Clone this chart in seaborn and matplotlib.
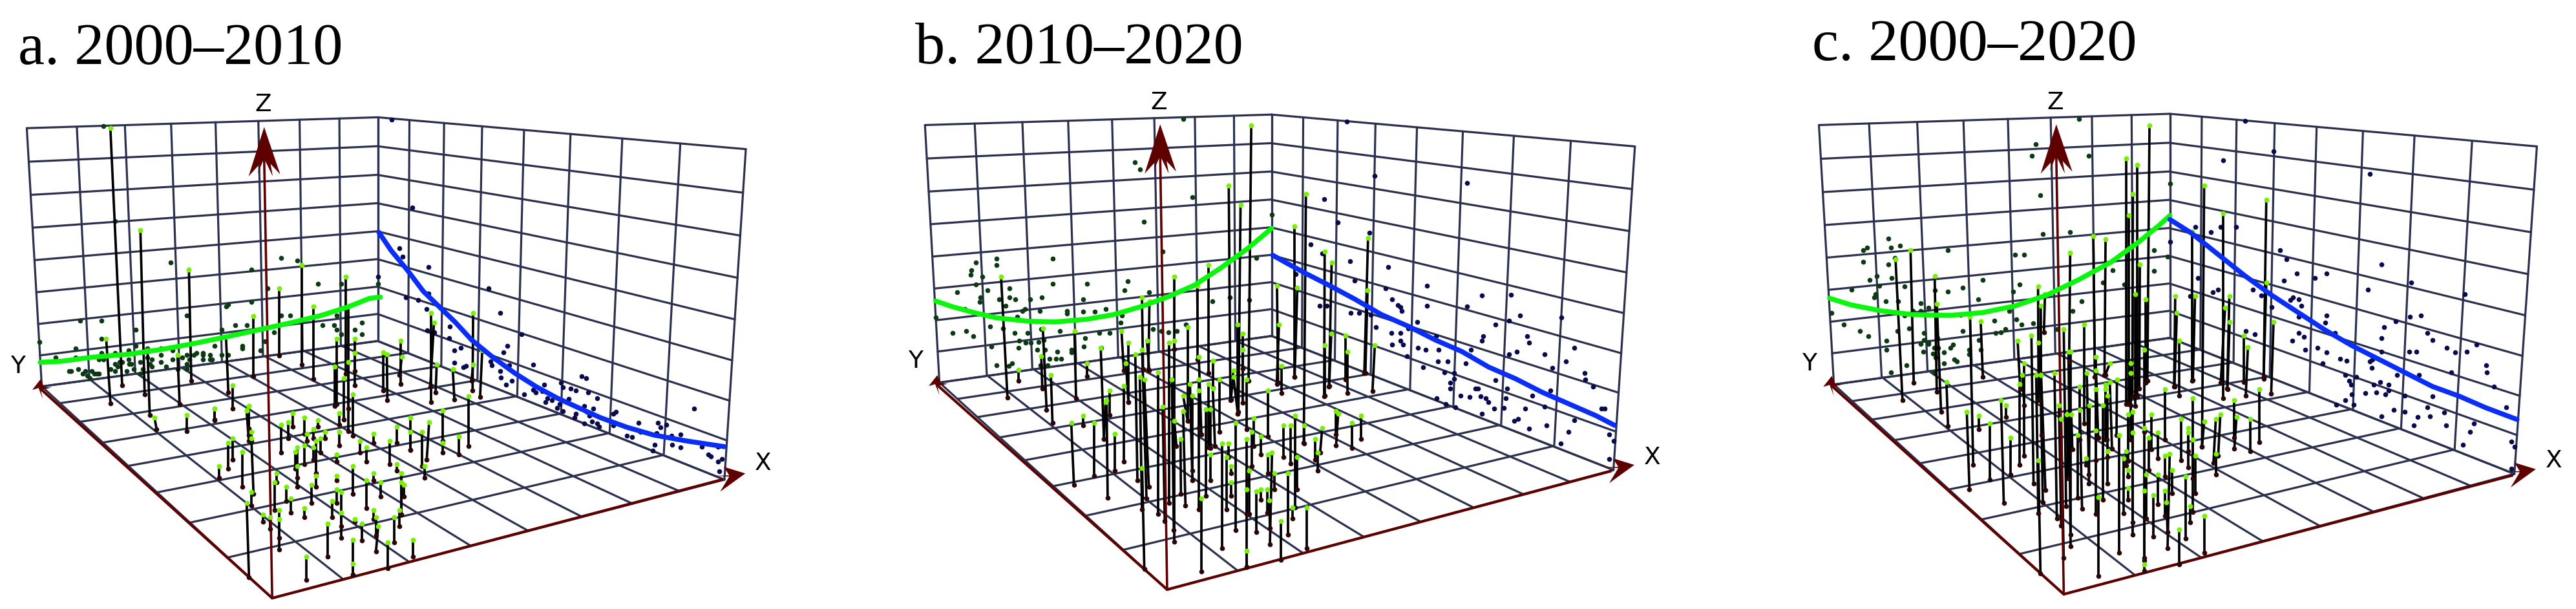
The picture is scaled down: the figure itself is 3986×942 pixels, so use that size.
import numpy as np
import pandas as pd
import matplotlib
matplotlib.use('Agg')
import matplotlib.pyplot as plt
import seaborn as sns

sns.set_style('white')
plt.rcParams['font.family'] = ['Liberation Serif', 'DejaVu Serif']

# values, in screen units of each panel (1568 wide and high)
titles = ['a. 2000–2010', 'b. 2010–2020', 'c. 2000–2020']

a_green = [(75,933),(115,930),(170,920),(240,912),(300,900),(360,885),(420,868),(480,850),(540,832),(600,812),(650,790),(690,768),(710,765)]
a_blue = [(707,598),(730,645),(760,695),(790,750),(820,790),(850,830),(880,875),(920,920),(960,960),(1000,995),(1040,1025),(1080,1050),(1120,1075),(1170,1100),(1220,1120),(1280,1135),(1352,1150)]
b_green = [(118,775),(150,790),(190,805),(230,818),(290,827),(340,829),(400,822),(450,810),(500,790),(550,765),(600,735),(650,690),(700,640),(745,588)]
b_blue = [(747,657),(770,675),(810,705),(850,733),(900,770),(950,810),(1000,840),(1050,875),(1100,905),(1150,945),(1200,975),(1250,1010),(1300,1040),(1350,1070),(1385,1095)]
c_green = [(175,768),(215,785),(270,800),(330,810),(400,812),(460,805),(520,788),(580,760),(640,720),(700,675),(750,625),(790,580),(810,555)]
c_blue = [(810,565),(850,600),(900,655),(950,710),(1000,760),(1050,805),(1100,850),(1150,890),(1200,925),(1250,960),(1300,995),(1350,1020),(1400,1050),(1458,1080)]

# stems: top x, top y, base x, base y
a_stems = [(206,330,228,992),(262,592,270,1015),(715,908,715,1005),(722,912,723,1030),(748,878,748,988),(750,918,746,965),(805,805,805,1035),(810,830,803,995),(815,938,813,1010),(883,805,882,1005),(883,938,880,980),(900,902,896,1022),(845,950,848,1028),(874,1020,874,1148)]
b_stems = [(707,323,702,980),(665,477,668,1030),(687,527,683,1060),(809,500,805,1140),(788,582,788,970),(925,612,918,960),(844,647,843,1020),(857,676,852,995),(793,740,788,970),(755,735,757,985),(924,747,920,960),(627,682,627,960),(607,735,607,925),(563,712,563,899),(503,765,505,950),(517,775,515,950),(240,712,252,1023),(318,845,325,1055),(315,917,317,1000),(273,952,273,980),(333,965,336,1088),(377,852,380,1025),(401,935,401,968),(426,895,432,1130),(443,1005,443,1068),(435,1035,432,1130),(371,1088,376,1248),(393,1070,393,1095),(414,1088,414,1225),(437,1030,439,1282)]
c_stems = [(772,323,768,980),(728,407,728,1040),(749,425,749,1020),(741,500,740,1020),(733,555,733,1040),(874,478,870,1150),(990,514,985,975),(909,549,909,1025),(852,596,852,980),(754,680,753,1000),(667,607,670,970),(690,616,688,965),(624,651,622,930),(326,645,332,985),(298,668,311,1030),(371,710,375,1008),(375,782,383,1060),(437,815,443,1197),(457,828,461,970),(393,983,396,1097),(564,738,565,1030),(569,787,570,1120),(577,757,575,855),(745,757,745,1045),(765,770,765,985),(820,763,818,995),(857,762,853,978),(913,793,905,985),(921,763,917,1000),(990,728,985,970),(431,1060,436,1260),(453,1070,453,1105),(474,1090,474,1235),(495,1030,500,1295)]

a_stems_crop1 = [(7,35,7,90),(166,25,166,130),(155,45,165,185),(177,143,177,185),(177,175,187,433),(91,175,91,272),(70,196,70,315),(134,238,134,400),(27,303,27,358),(177,422,177,486),(155,475,166,818),(316,110,316,239),(348,100,348,175),(370,57,370,121),(423,78,423,153),(487,89,487,121),(466,132,466,175),(434,153,434,185),(519,143,519,175),(498,175,498,239),(477,185,477,335),(466,217,466,272),(423,207,423,293),(391,217,391,400),(380,238,380,315),(391,303,391,357),(584,57,584,110),(584,143,584,207),(573,250,573,282),(477,347,477,400),(456,389,456,475),(295,335,295,378),(284,378,284,507),(338,400,338,464),(359,454,359,518),(423,497,423,540),(306,507,306,690),(230,529,230,560),(263,540,263,593),(306,550,306,635),(552,464,552,540),(573,411,573,475),(595,422,595,635),(595,518,595,582),(530,571,530,722),(648,303,648,432),(573,347,573,368),(658,550,658,560),(691,571,691,647),(648,646,648,808),(648,755,648,808),(433,722,433,830),(755,540,755,625),(766,582,755,700),(745,508,745,550),(809,657,809,776),(841,540,841,657),(863,508,863,582),(927,646,927,722),(712,368,712,497),(777,378,777,443),(745,335,745,368),(874,335,874,529),(874,378,874,529),(884,389,884,443),(852,293,852,325),(820,185,820,293),(712,217,712,282),(680,185,680,239),(745,153,745,196),(852,121,852,196),(916,78,916,228),(916,143,916,228),(970,143,970,303),(1002,100,991,272),(981,303,981,357),(1066,46,1066,185),(1066,196,1066,239),(1141,164,1141,250)]
a_stems_crop2 = [(193,433,213,733),(385,487,395,787),(524,508,534,735),(577,111,588,626),(749,423,760,681),(781,648,781,756),(877,326,877,606),(995,197,995,510),(1102,90,1102,552),(1156,283,1156,617),(1305,143,1305,595),(1316,283,1316,860),(1263,433,1263,735),(1253,562,1253,745),(1296,615,1296,808),(1348,433,1348,583),(1348,497,1348,648),(1316,540,1316,755),(1338,690,1338,883),(417,797,427,852),(566,787,566,862),(695,755,695,808),(856,745,856,850),(845,765,855,880)]
b_stems_crop = [(46,97,57,280),(78,150,78,427),(67,247,78,427),(57,352,57,703),(14,574,14,745),(110,204,120,788),(131,310,141,925),(142,183,162,873),(164,140,175,280),(152,320,173,820),(142,733,152,1200),(216,289,216,945),(268,150,268,893),(290,140,290,1073),(280,320,289,1020),(237,448,247,977),(291,512,301,630),(320,596,322,852),(332,395,353,512),(332,468,343,905),(353,77,353,512),(364,342,374,745),(374,395,374,788),(405,215,417,575),(406,373,406,925),(406,320,406,545),(417,872,417,1212),(438,458,438,862),(449,342,449,635),(459,458,459,640),(470,235,470,360),(470,362,480,630),(502,320,502,565),(459,670,459,788),(512,618,512,1105),(533,681,533,925),(544,618,544,680),(554,723,554,755),(554,797,554,862),(566,278,554,415),(566,310,586,480),(576,522,576,1020),(608,183,608,430),(608,108,608,270),(586,66,586,480),(628,320,628,553),(628,596,628,1190),(628,830,628,945),(650,565,650,723),(660,500,660,630),(639,745,639,945),(628,1116,628,1190),(692,586,692,670),(671,840,671,1030),(692,830,692,880),(725,670,725,755),(745,660,735,1085),(724,830,724,938),(732,882,735,1010),(756,755,756,830),(787,977,787,1158),(820,755,820,1042),(798,533,798,682),(830,533,830,712),(851,490,851,915),(862,681,862,830),(840,914,840,967),(905,914,905,1105),(894,533,894,618),(978,545,968,660),(946,596,946,692),(956,660,956,745),(1042,468,1042,575),(1052,480,1042,628),(1116,522,1116,640),(1158,490,1158,597),(725,373,725,585),(788,257,788,384),(1095,193,1095,385),(1085,118,1085,320),(989,162,989,395),(1020,108,1010,352),(1222,162,1211,375),(777,66,767,343)]
c_stems_crop = [(66,140,78,365),(76,343,76,718),(87,300,97,440),(97,247,97,675),(130,118,140,805),(162,150,172,290),(152,300,162,943),(173,300,183,890),(175,300,195,835),(162,697,172,1222),(12,440,12,495),(34,590,34,763),(237,290,248,965),(280,87,291,910),(302,193,312,1095),(312,193,312,1040),(258,440,268,998),(268,505,280,1148),(295,483,300,780),(315,483,320,645),(376,66,376,525),(344,578,344,870),(355,355,355,600),(355,462,365,922),(387,290,397,763),(400,440,397,805),(385,686,385,718),(430,215,430,697),(430,365,430,945),(430,280,440,590),(440,868,440,1232),(430,558,440,590),(494,247,473,300),(473,344,480,600),(494,332,504,643),(484,397,484,680),(461,440,461,878),(473,365,473,600),(484,654,484,805),(527,322,525,580),(537,578,537,1125),(558,686,558,943),(569,654,569,720),(580,740,580,772),(580,825,580,880),(579,483,579,700),(590,290,590,600),(590,247,590,440),(601,472,601,985),(601,568,601,1040),(654,182,654,563),(654,547,654,1160),(664,762,664,965),(654,836,654,1150),(654,1180,654,1210),(676,590,676,740),(686,483,686,645),(718,568,718,686),(697,858,697,1050),(718,762,718,900),(751,365,751,600),(751,676,751,772),(772,665,762,1105),(751,836,751,955),(783,740,783,848),(757,890,762,1030),(815,1018,815,1180),(847,772,847,1060),(826,504,826,697),(857,547,857,655),(857,568,857,730),(879,408,879,935),(879,600,879,780),(890,676,890,848),(868,910,868,985),(932,954,932,1125),(932,515,922,632),(986,504,975,708),(1007,483,997,676),(986,665,986,762),(1072,418,1072,590),(1082,494,1072,643),(1147,504,1147,655),(1189,365,1189,612),(815,140,815,397),(1115,118,1115,333),(1135,172,1125,397),(1050,54,1040,365),(1254,54,1243,387),(805,12,794,355)]

a_left = [(193,325),(215,570),(73,880),(705,730),(104,920)]
a_left_crop = [(491,79),(867,112),(1006,58),(1081,69),(1177,176),(1285,176),(941,197),(867,261),(749,283),(760,272),(73,348),(170,348),(330,390),(567,325),(728,390),(792,369),(845,369),(1006,325),(1048,325),(1263,325),(1381,358),(1198,369),(1252,369),(1263,390),(1348,390),(1285,411),(1381,411),(973,401),(170,433),(930,444),(330,465),(695,465),(824,465),(824,476),(52,476),(385,476),(448,476),(298,486),(502,486),(909,486),(170,497),(234,497),(612,497),(642,497),(600,508),(642,508),(448,508),(567,508),(674,508),(728,508),(760,508),(52,518),(298,529),(406,529),(502,529),(545,518),(578,529),(642,529),(674,529),(684,529),(181,529),(160,529),(255,540),(266,540),(352,540),(385,518),(448,540),(299,550),(310,550),(234,550),(245,561),(395,550),(406,561),(567,550),(470,561),(213,572),(64,572),(320,572),(363,572),(567,572),(524,572),(20,583),(31,583),(95,583),(235,583),(288,583),(127,583),(85,593),(138,593),(150,593),(160,593),(106,604),(352,593),(117,615)]
a_right = [(731,308),(769,535),(745,640),(752,660),(800,688),(705,712),(912,742),(758,765),(780,772),(800,755),(796,795),(934,806),(797,850),(840,840),(810,855),(838,870),(973,860),(860,895),(848,902),(947,890),(940,908),(915,930),(918,940),(950,940),(848,933),(870,942),(865,945),(995,938),(933,955),(935,972),(945,990),(955,980),(1085,968),(1094,973),(1015,990),(1047,985),(1050,997),(995,1003),(1012,1007),(1000,1010),(1065,1000),(1075,1005),(1098,1010),(1115,1025),(978,1015),(1022,1025),(1018,1035),(1030,1030),(1062,1027),(1045,1040),(1090,1045),(1040,1050),(1050,1058),(1107,1052),(1295,1052),(1150,1060),(1075,1065),(1072,1075),(1095,1060),(1100,1070),(1145,1065),(1105,1085),(1115,1090),(1090,1090),(1145,1095),(1192,1088),(1118,1098),(1228,1088),(1243,1093),(1233,1100),(1170,1122),(1180,1125),(1195,1112),(1225,1115),(1270,1118),(1253,1122),(1222,1145),(1218,1160),(1255,1145),(1270,1152),(1310,1150),(1340,1150),(1322,1170),(1327,1175),(1347,1182),(1340,1188),(1343,1213)]
b_left = [(580,307),(490,418),(499,436),(597,507),(507,571),(746,553),(231,665),(337,665),(193,676),(231,683),(184,695),(183,708),(205,712),(193,732),(337,730),(401,730),(477,724),(541,647),(716,664),(256,742),(215,748),(158,752),(470,748),(516,753),(201,765),(236,770),(256,765),(266,770),(294,770),(316,765),(393,771),(200,778),(635,775),(667,765),(703,772),(285,795),(280,800),(270,815),(172,795),(249,788),(312,800),(435,795),(415,803),(393,803),(363,800),(363,808),(118,818),(465,813),(463,830),(585,835),(220,840),(244,845),(524,848),(539,852),(553,855),(568,852),(350,852),(315,848),(150,858),(175,852),(188,865),(265,858),(290,858),(443,858),(423,858),(397,870),(274,877),(286,882),(296,882),(222,893),(310,880),(320,875),(427,895),(273,895),(308,900),(322,900),(372,900),(395,893),(345,906),(316,917),(330,923),(342,924),(352,924),(372,908),(260,935),(254,942),(231,940),(314,941),(327,941),(400,936)]
b_right = [(885,313),(937,453),(1110,471),(843,512),(869,572),(928,600),(818,630),(839,652),(891,672),(963,688),(790,705),(900,722),(1035,736),(958,742),(1192,759),(1137,760),(1035,787),(1110,789),(970,771),(980,785),(985,790),(988,800),(835,788),(848,788),(892,805),(908,805),(930,810),(1209,812),(1286,817),(1188,825),(1017,829),(1163,836),(1000,845),(1052,865),(1140,865),(1222,865),(1137,877),(1225,882),(985,858),(940,842),(968,858),(970,888),(985,878),(990,888),(1018,895),(1032,900),(1057,900),(1085,895),(1117,900),(1115,915),(1202,906),(1188,912),(1255,912),(1310,895),(997,917),(1055,930),(1073,930),(1107,935),(1294,930),(1269,947),(1028,945),(1068,958),(1085,960),(1163,978),(1329,960),(1330,977),(1345,995),(1078,985),(1085,975),(1078,1000),(1125,1000),(1130,1000),(1185,1000),(1145,1025),(1150,1035),(1053,1025),(1098,1018),(1115,1022),(1135,1020),(1182,1025),(1232,1018),(1265,1005),(1070,1040),(1088,1048),(1160,1052),(1178,1050),(1218,1052),(1255,1047),(1360,1052),(1367,1052),(1138,1065),(1205,1078),(1198,1083),(1225,1103),(1258,1095),(1310,1082),(1375,1118),(1299,1112),(1285,1142),(1383,1135),(1375,1182)]
c_left = [(641,307),(560,371),(552,401),(659,401),(568,502),(573,603),(624,597),(810,472),(285,615),(245,638),(238,645),(290,638),(306,633),(396,645),(521,656),(538,656),(238,674),(285,680),(297,664),(780,645),(806,660),(263,710),(291,715),(461,721),(250,721),(268,735),(315,738),(423,740),(530,733),(396,750),(216,745),(518,750),(371,747),(260,758),(258,765),(280,775),(303,775),(345,780),(452,770),(645,775),(628,800),(725,733),(685,727),(780,697),(703,695),(360,793),(345,800),(330,800),(315,812),(420,810),(510,800),(524,822),(178,805),(202,835),(483,825),(232,852),(247,865),(323,845),(301,852),(351,857),(423,852),(533,835),(555,832),(600,848),(281,878),(351,875),(360,885),(345,885),(376,870),(360,880),(495,855),(485,858),(503,848),(453,875),(281,900),(350,905),(370,895),(378,895),(405,888),(400,895),(436,900),(457,900),(368,910),(373,920),(388,907),(318,940),(388,935),(408,925),(413,930),(435,912),(289,958),(370,960)]
c_right = [(950,312),(1003,390),(909,412),(1183,448),(905,585),(887,597),(934,585),(858,585),(832,585),(810,622),(1015,645),(1028,668),(1205,680),(1047,704),(1102,704),(1081,715),(1023,722),(862,715),(1261,727),(965,745),(1180,745),(900,745),(890,752),(1360,757),(1040,765),(1050,770),(1035,772),(848,762),(980,760),(1055,788),(1102,812),(1050,815),(1000,790),(1258,815),(1278,812),(1232,828),(1100,830),(1210,842),(1300,875),(1291,858),(1118,857),(952,853),(968,860),(1050,858),(1038,878),(1060,868),(1205,870),(1140,880),(1085,895),(1063,900),(1102,907),(1205,905),(1257,906),(1270,906),(1327,895),(1343,907),(1364,906),(1382,887),(1128,923),(1140,928),(1095,936),(1188,925),(1183,930),(1187,947),(1400,940),(1402,958),(1335,958),(1158,970),(1137,965),(1145,980),(1148,990),(1275,965),(1234,965),(1415,995),(1203,983),(1190,990),(1218,990),(1150,1015),(1175,1012),(1195,1010),(1212,1015),(1218,1005),(1248,1018),(1300,1020),(1137,1030),(1153,1042),(1120,1042),(1290,1048),(1228,1055),(1248,1060),(1272,1073),(1205,1072),(1295,1072),(1322,1062),(1438,1048),(1325,1095),(1378,1090),(1265,1095),(1370,1112),(1447,1137),(1357,1145),(1453,1150),(1447,1207)]

# box corners of each panel
a_box = dict(T=(705,302), F=(705,878), LT=(50,330), LB=(78,995), RT=(1392,384), RB=(1352,1235), O=(508,1540))
b_box = dict(T=(745,295), F=(745,865), LT=(98,322), LB=(125,985), RT=(1423,377), RB=(1383,1210), O=(550,1518))
c_box = dict(T=(810,293), F=(810,870), LT=(155,322), LB=(183,990), RT=(1495,377), RB=(1453,1220), O=(612,1530))

# arrow tips and label centres
a_tips = dict(X=(1391,1219), Y=(76,976), Z=(493,327))
b_tips = dict(X=(1422,1197), Y=(121,966), Z=(537,320))
c_tips = dict(X=(1493,1208), Y=(179,968), Z=(598,320))
a_labels = dict(X=(1424,1193), Y=(33,943), Z=(491,270))
b_labels = dict(X=(1455,1178), Y=(80,930), Z=(535,265))
c_labels = dict(X=(1527,1187), Y=(137,937), Z=(596,265))
title_pos = [(34,165), (80,163), (142,155)]

GRID = '#2b304f'
AXIS = '#5e0000'
N = 8
W, H = 3986, 942
PANEL_W = 1300
SCREEN = 1568


def from_crop(rows, crop_x, crop_y, panel_x):
    # 3x crop pixels to panel screen units
    a = np.array(rows, float)
    kx, ky = SCREEN/PANEL_W, SCREEN/H
    a[:, 0::2] = (crop_x + a[:, 0::2]/3 - panel_x)*kx
    a[:, 1::2] = (crop_y + a[:, 1::2]/3)*ky
    return [tuple(r) for r in a]


def quad_map(p00, p10, p11, p01):
    # projective map of the unit square onto four screen points
    src = [(0,0),(1,0),(1,1),(0,1)]
    A, b = [], []
    for (u,v),(x,y) in zip(src,[p00,p10,p11,p01]):
        A.append([u,v,1,0,0,0,-u*x,-v*x]); b.append(x)
        A.append([0,0,0,u,v,1,-u*y,-v*y]); b.append(y)
    h = np.append(np.linalg.solve(np.array(A,float), np.array(b,float)), 1).reshape(3,3)
    def f(u,v):
        w = h @ np.array([u,v,1.0])
        return w[0]/w[2], w[1]/w[2]
    return f


def draw_grid(ax, p00, p10, p11, p01):
    f = quad_map(p00,p10,p11,p01)
    for i in range(N+1):
        t = i/N
        for s,e in [((t,0),(t,1)),((0,t),(1,t))]:
            a, b = f(*s), f(*e)
            ax.plot([a[0],b[0]],[a[1],b[1]],color=GRID,lw=2.3,solid_capstyle='round',zorder=1)


def head(ax, tip, offsets):
    xs = [tip[0]] + [tip[0]+o[0] for o in offsets]
    ys = [tip[1]] + [tip[1]+o[1] for o in offsets]
    ax.fill(xs,ys,color=AXIS,lw=0,zorder=9)


def draw_panel(ax, box, tips, labels, left, right, stems, green, blue):
    draw_grid(ax, box['LT'], box['T'], box['F'], box['LB'])
    draw_grid(ax, box['T'], box['RT'], box['RB'], box['F'])
    draw_grid(ax, box['F'], box['RB'], box['O'], box['LB'])

    sns.scatterplot(data=pd.DataFrame(left,columns=['x','y']),x='x',y='y',ax=ax,color='#0c3a12',s=30,linewidth=0,zorder=2,legend=False)
    sns.scatterplot(data=pd.DataFrame(right,columns=['x','y']),x='x',y='y',ax=ax,color='#0a0a4f',s=30,linewidth=0,zorder=2,legend=False)

    st = pd.DataFrame(stems,columns=['tx','ty','bx','by'])
    for r in st.itertuples():
        ax.plot([r.tx,r.bx],[r.ty,r.by],color='black',lw=2.7,solid_capstyle='butt',zorder=4)

    # axes with arrow heads
    O = box['O']
    ax.plot([O[0],tips['X'][0]-44],[O[1],tips['X'][1]+16],color=AXIS,lw=3.0,zorder=3)
    ax.plot([O[0],tips['Y'][0]+2],[O[1],tips['Y'][1]+28],color=AXIS,lw=3.0,zorder=3)
    ax.plot([O[0],tips['Z'][0]],[O[1],tips['Z'][1]+80],color=AXIS,lw=2.6,zorder=5)
    head(ax,tips['Z'],[(30,122),(12,95),(16,127),(2,87),(-2,87),(-12,120),(-8,95),(-29,127)])
    head(ax,tips['X'],[(-40,-17),(-30,5),(-60,6),(-30,8),(-47,47)])
    head(ax,tips['Y'],[(-16,28),(-4,23),(4,52),(0,28),(20,22),(6,20)])
    for k,(lx,ly) in labels.items():
        ax.text(lx,ly,k,family='DejaVu Sans',fontsize=27,ha='center',va='center',color='black',zorder=10)

    sns.scatterplot(data=st,x='bx',y='by',ax=ax,color='#2a0606',s=30,linewidth=0,zorder=6,legend=False)
    sns.scatterplot(data=st,x='tx',y='ty',ax=ax,color='#76f005',s=32,linewidth=0,zorder=7,legend=False)

    for line,col in [(green,'#0cf50c'),(blue,'#0a2ef5')]:
        sns.lineplot(data=pd.DataFrame(line,columns=['x','y']),x='x',y='y',ax=ax,color=col,lw=5.5,sort=False,estimator=None,zorder=8)


a_all = a_stems + from_crop(a_stems_crop1,330,620,0) + from_crop(a_stems_crop2,100,380,0)
b_all = b_stems + from_crop(b_stems_crop,1720,480,1350)
c_all = c_stems + from_crop(c_stems_crop,3100,480,2686)
a_left_all = a_left + from_crop(a_left_crop,100,380,0)

fig = plt.figure(figsize=(W/100,H/100),dpi=100,facecolor='white')
panels = [
    (0,a_box,a_tips,a_labels,a_left_all,a_right,a_all,a_green,a_blue),
    (1350,b_box,b_tips,b_labels,b_left,b_right,b_all,b_green,b_blue),
    (2686,c_box,c_tips,c_labels,c_left,c_right,c_all,c_green,c_blue),
]
for i,p in enumerate(panels):
    ax = fig.add_axes([p[0]/W,0,PANEL_W/W,1],facecolor='none')
    draw_panel(ax,*p[1:])
    ax.set_xlim(0,SCREEN)
    ax.set_ylim(SCREEN,0)
    ax.axis('off')
    ax.text(title_pos[i][0],title_pos[i][1],titles[i],fontsize=66.5,va='baseline',ha='left',color='black')

plt.savefig('out.png',dpi=100)
